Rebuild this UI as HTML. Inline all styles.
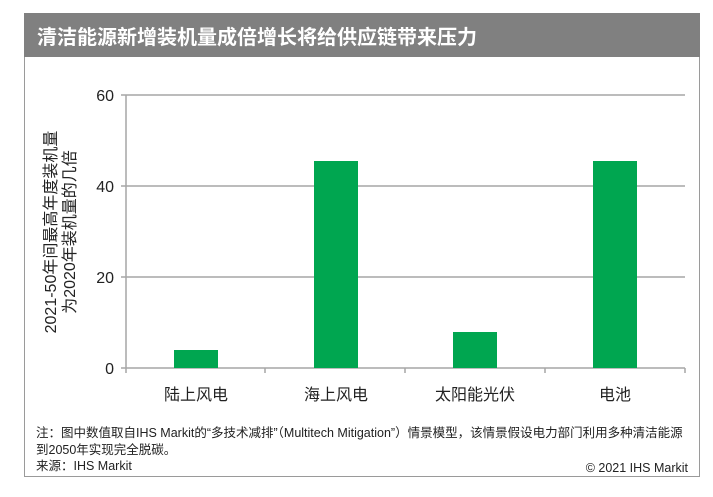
<!DOCTYPE html>
<html><head><meta charset="utf-8"><style>
body{margin:0;background:#fff;width:713px;height:492px;overflow:hidden;font-family:"Liberation Sans","Noto Sans CJK SC",sans-serif}
</style></head><body>
<svg width="713" height="492" xmlns="http://www.w3.org/2000/svg" style="font-family:'Liberation Sans','Noto Sans CJK SC',sans-serif">
<rect x="24.5" y="13.5" width="675" height="463" fill="#fff" stroke="#9a9a9a"/>
<rect x="24" y="13" width="676" height="44" fill="#808080"/>
<text x="37" y="44" fill="#fff" font-size="20" font-weight="bold">清洁能源新增装机量成倍增长将给供应链带来压力</text>
<g stroke="#a6a6a6" stroke-width="1.5">
<line x1="121" y1="95" x2="685" y2="95"/>
<line x1="121" y1="186" x2="685" y2="186"/>
<line x1="121" y1="277" x2="685" y2="277"/>
<line x1="121" y1="368" x2="685" y2="368"/>
<line x1="126" y1="95" x2="126" y2="373"/>
<line x1="265" y1="368" x2="265" y2="373"/>
<line x1="405" y1="368" x2="405" y2="373"/>
<line x1="545" y1="368" x2="545" y2="373"/>
<line x1="685" y1="368" x2="685" y2="373"/>
</g>
<g fill="#00a650">
<rect x="174" y="350" width="44" height="18"/>
<rect x="314" y="161" width="44" height="207"/>
<rect x="453" y="332" width="44" height="36"/>
<rect x="593" y="161" width="44" height="207"/>
</g>
<g font-size="16" fill="#222" text-anchor="end">
<text x="114" y="101">60</text><text x="114" y="192">40</text><text x="114" y="283">20</text><text x="114" y="374">0</text>
</g>
<g font-size="16" fill="#222" text-anchor="middle">
<text x="196" y="400">陆上风电</text><text x="336" y="400">海上风电</text><text x="475" y="400">太阳能光伏</text><text x="615" y="400">电池</text>
</g>
<g font-size="16" fill="#222" text-anchor="middle">
<text transform="translate(56,232) rotate(-90)">2021-50年间最高年度装机量</text>
<text transform="translate(75,232) rotate(-90)">为2020年装机量的几倍</text>
</g>
<g font-size="12.5" fill="#222">
<text x="36" y="437">注：图中数值取自IHS Markit的“多技术减排”（Multitech Mitigation”）情景模型，该情景假设电力部门利用多种清洁能源</text>
<text x="36" y="454">到2050年实现完全脱碳。</text>
<text x="36" y="470">来源：IHS Markit</text>
<text x="688" y="472" text-anchor="end">© 2021 IHS Markit</text>
</g>
</svg>
</body></html>
